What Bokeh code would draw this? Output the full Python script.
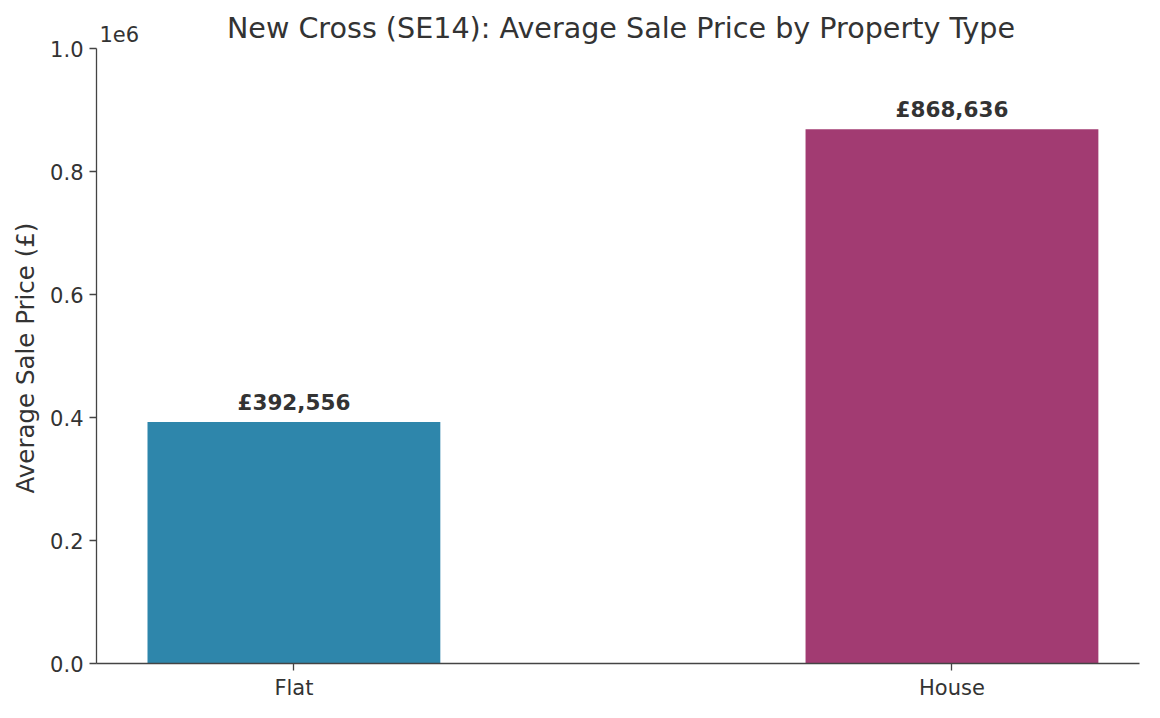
from bokeh.plotting import figure
from bokeh.models import Range1d, FixedTicker, Label, Title, ColumnDataSource
from bokeh.core.properties import value
from bokeh.embed import file_html
from bokeh.resources import INLINE

title = "New Cross (SE14): Average Sale Price by Property Type"
y_label = "Average Sale Price (£)"
categories = ["Flat", "House"]
prices = [392556, 868636]
colors = ["#2E86AB", "#A23B72"]
y_ticks = [0, 200000, 400000, 600000, 800000, 1000000]
y_tick_labels = ["0.0", "0.2", "0.4", "0.6", "0.8", "1.0"]
y_max = 1000000

FONT = "DejaVu Sans"
TXT = "#333333"
AX = "#444444"

W, H = 1144, 702
BL, BR, BT, BB = 96, 5, 0, 39
AXIS_TOP_PX = 48          # where the top of the axis (1.0) sits, in pixels from the top
frame_w = W - BL - BR
frame_h = H - BT - BB
y_end = y_max * frame_h / (frame_h - AXIS_TOP_PX)

xs = list(range(len(categories)))
src = ColumnDataSource(dict(
    x=xs, top=prices, color=colors,
    label=[f"£{v:,.0f}" for v in prices],
))

p = figure(width=W, height=H, output_backend="svg", toolbar_location=None, title=None,
           x_range=Range1d(-0.3, 1.285), y_range=Range1d(0, y_end),
           min_border_left=BL, min_border_right=BR, min_border_top=BT, min_border_bottom=BB)

p.vbar(x="x", top="top", width=0.445, bottom=0, fill_color="color", line_color=None, source=src)
p.text(x="x", y="top", text="label", source=src, text_align="center", text_baseline="bottom",
       y_offset=-7, text_font=value(FONT), text_font_style="bold", text_font_size="21.5px",
       text_color=TXT)

p.xgrid.visible = False
p.ygrid.visible = False
p.outline_line_color = None
p.background_fill_color = "white"
p.border_fill_color = "white"

p.xaxis.ticker = FixedTicker(ticks=xs)
p.xaxis.major_label_overrides = {i: c for i, c in zip(xs, categories)}
p.yaxis.ticker = FixedTicker(ticks=y_ticks)
p.yaxis.major_label_overrides = {t: l for t, l in zip(y_ticks, y_tick_labels)}
p.yaxis.bounds = (0, y_max)

for ax in (p.xaxis, p.yaxis):
    ax.axis_line_color = AX
    ax.axis_line_width = 1.3
    ax.major_tick_line_color = AX
    ax.major_tick_line_width = 1.3
    ax.major_tick_out = 7
    ax.major_tick_in = 0
    ax.minor_tick_line_color = None
    ax.major_label_text_font = FONT
    ax.major_label_text_font_size = "21px"
    ax.major_label_text_color = TXT
    ax.major_label_standoff = 6
p.xaxis.major_label_standoff = 5

# y-axis title, centred on the drawn axis (0 .. 1.0) rather than on the whole frame
p.add_layout(Title(text=y_label, align="left", offset=170, standoff=15,
                   text_font=FONT, text_font_size="24.5px", text_font_style="normal",
                   text_color=TXT), "left")

# chart title (drawn in the top strip of the frame)
p.add_layout(Label(x=frame_w / 2 + 3, y=frame_h - 27, x_units="screen", y_units="screen",
                   text=title, text_align="center", text_baseline="alphabetic",
                   text_font=FONT, text_font_size="28.6px", text_color=TXT))
# axis offset text
p.add_layout(Label(x=3, y=frame_h - 33, x_units="screen", y_units="screen", text="1e6",
                   text_baseline="alphabetic", text_font=FONT, text_font_size="21px",
                   text_color=TXT))

open("out.html", "w").write(file_html(p, INLINE))
